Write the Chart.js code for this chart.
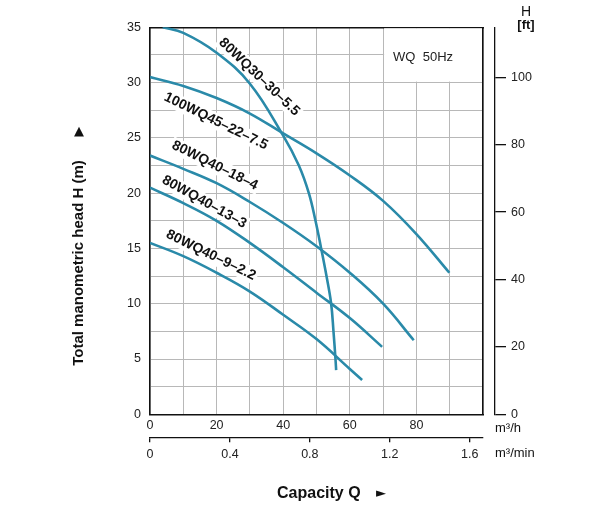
<!DOCTYPE html>
<html>
<head>
<meta charset="utf-8">
<style>
html, body { margin: 0; padding: 0; background: #fff; }
</style>
<script src="https://cdn.jsdelivr.net/npm/chart.js@4.4.0/dist/chart.umd.min.js"></script>
</head>
<body>
<canvas id="myChart" width="594" height="521"></canvas>
<script>
// pump curves, Q in m3/h and H in m
var names = ['80WQ30–30–5.5', '100WQ45–22–7.5', '80WQ40–18–4', '80WQ40–13–3', '80WQ40–9–2.2'];
var q1 = [3.8, 10, 20, 30, 40, 44.7, 47.7, 49.7, 51.4, 53, 54.4, 55.1, 55.7, 55.9];
var h1 = [35, 34.5, 32.7, 29.9, 25.2, 22.5, 20, 17.5, 15, 12.5, 10, 7.5, 5, 4.0];
var q2 = [0, 10, 20, 30, 40, 50, 60, 70, 80, 89.9];
var h2 = [30.5, 29.7, 28.6, 27.2, 25.4, 23.6, 21.6, 19.3, 16.3, 12.8];
var q3 = [0, 10, 20, 30, 40, 50, 60, 70, 79.2];
var h3 = [23.4, 22.2, 20.9, 19.2, 17.3, 15.2, 12.8, 10.0, 6.7];
var q4 = [0, 10, 20, 30, 40, 50, 60, 69.7];
var h4 = [20.5, 19.1, 17.5, 15.5, 13.3, 11.0, 8.7, 6.1];
var q5 = [0, 10, 20, 30, 40, 50, 60, 63.7];
var h5 = [15.5, 14.3, 12.8, 11.1, 9.0, 6.8, 4.1, 3.1];

// axis ticks
var qTicks = [0, 20, 40, 60, 80];
var minTicks = [0, 0.4, 0.8, 1.2, 1.6];
var hTicks = [0, 5, 10, 15, 20, 25, 30, 35];
var ftTicks = [0, 20, 40, 60, 80, 100];

// where the model names sit (Q, H, angle)
var labelQ = [32.8, 19.8, 19.5, 16.3, 18.3];
var labelH = [30.5, 26.5, 22.5, 19.2, 14.4];
var labelAngle = [43.7, 26, 26.6, 29, 26];

var teal = '#2a8aa9';
var grey = '#b8b8b8';
Chart.defaults.font.family = '"Liberation Sans", Arial, sans-serif';
Chart.defaults.color = '#222';

function pts(q, h) {
    var arr = [];
    for (var i = 0; i < q.length; i++) {
        arr.push({x: q[i], y: h[i]});
    }
    return arr;
}

var allQ = [q1, q2, q3, q4, q5];
var allH = [h1, h2, h3, h4, h5];
var datasets = [];
for (var i = 0; i < names.length; i++) {
    datasets.push({
        label: names[i],
        data: pts(allQ[i], allH[i]),
        borderColor: teal,
        borderWidth: 2.6,
        pointRadius: 0,
        tension: 0.4,
        fill: false
    });
}

var decor = {
    id: 'decor',
    beforeDatasetsDraw: function(chart) {
        var ctx = chart.ctx;
        var sx = chart.scales.x, sy = chart.scales.y;
        var area = chart.chartArea;
        ctx.save();
        // blank box for the note
        ctx.fillStyle = '#fff';
        var l = sx.getPixelForValue(70) + 1;
        ctx.fillRect(l, area.top + 1, area.right - l - 1, sy.getPixelForValue(30) - area.top - 2);
        ctx.fillStyle = '#222';
        ctx.font = '13px "Liberation Sans", Arial, sans-serif';
        ctx.textAlign = 'center';
        ctx.textBaseline = 'middle';
        ctx.fillText('WQ  50Hz', sx.getPixelForValue(82), sy.getPixelForValue(32.5) + 2);

        // model names along the curves
        ctx.font = 'bold 14px "Liberation Sans", Arial, sans-serif';
        for (var i = 0; i < names.length; i++) {
            var px = sx.getPixelForValue(labelQ[i]);
            var py = sy.getPixelForValue(labelH[i]);
            ctx.save();
            ctx.translate(px, py);
            ctx.rotate(labelAngle[i] * Math.PI / 180);
            var w = ctx.measureText(names[i]).width;
            ctx.fillStyle = '#fff';
            ctx.fillRect(-w / 2 - 2, -8, w + 4, 16);
            ctx.fillStyle = '#111';
            ctx.fillText(names[i], 0, 0);
            ctx.restore();
        }
        ctx.restore();
    },
    afterDraw: function(chart) {
        var ctx = chart.ctx;
        ctx.save();
        ctx.fillStyle = '#111';
        ctx.textBaseline = 'middle';
        ctx.textAlign = 'center';
        ctx.font = '14px "Liberation Sans", Arial, sans-serif';
        ctx.fillText('H', 526, 12);
        ctx.font = 'bold 13px "Liberation Sans", Arial, sans-serif';
        ctx.fillText('[ft]', 526, 25);

        ctx.textAlign = 'left';
        ctx.font = '13px "Liberation Sans", Arial, sans-serif';
        ctx.fillText('m³/h', 495, 428);
        ctx.fillText('m³/min', 495, 453);

        ctx.font = 'bold 16px "Liberation Sans", Arial, sans-serif';
        ctx.fillText('Capacity Q', 277, 494);
        ctx.font = '13px "DejaVu Sans", sans-serif';
        ctx.fillText('►', 376, 494);

        ctx.textAlign = 'center';
        ctx.fillText('▲', 79, 132);

        ctx.translate(79, 263);
        ctx.rotate(-Math.PI / 2);
        ctx.font = 'bold 15px "Liberation Sans", Arial, sans-serif';
        ctx.fillText('Total manometric head H (m)', 0, 0);
        ctx.restore();
    }
};

function setTicks(list) {
    return function(scale) {
        scale.ticks = list.map(function(v) { return {value: v}; });
    };
}

var ctx = document.getElementById('myChart').getContext('2d');
var myChart = new Chart(ctx, {
    type: 'line',
    data: {datasets: datasets},
    options: {
        responsive: false,
        animation: false,
        devicePixelRatio: 1,
        layout: {padding: 0},
        plugins: {legend: {display: false}, tooltip: {enabled: false}},
        scales: {
            x: {
                type: 'linear', position: 'bottom', min: 0, max: 100, weight: 0,
                ticks: {
                    stepSize: 10, padding: 4, maxRotation: 0, autoSkip: false,
                    font: {size: 12.5},
                    callback: function(v) { return qTicks.indexOf(v) >= 0 ? String(v) : ''; }
                },
                grid: {color: grey, lineWidth: 1, drawTicks: false},
                border: {color: '#111', width: 1.5},
                afterFit: function(s) { s.height = 23; }
            },
            xmin: {
                type: 'linear', axis: 'x', position: 'bottom', min: 0, max: 100 / 60, weight: 1,
                afterBuildTicks: setTicks(minTicks),
                ticks: {padding: 5, maxRotation: 0, autoSkip: false, font: {size: 12.5}},
                grid: {drawOnChartArea: false, drawTicks: true, tickLength: 5, color: '#111', lineWidth: 1.3},
                border: {color: '#111', width: 1.3},
                afterFit: function(s) { s.height = 83.7; }
            },
            xt: {
                type: 'linear', axis: 'x', position: 'top', min: 0, max: 100,
                ticks: {display: false},
                grid: {display: false},
                border: {color: '#111', width: 1.5},
                afterFit: function(s) { s.height = 27.3; }
            },
            y: {
                type: 'linear', position: 'left', min: 0, max: 35,
                ticks: {
                    stepSize: 2.5, padding: 9, autoSkip: false, font: {size: 12.5},
                    callback: function(v) { return hTicks.indexOf(v) >= 0 ? String(v) : ''; }
                },
                grid: {color: grey, lineWidth: 1, drawTicks: false},
                border: {color: '#111', width: 1.5},
                afterFit: function(s) { s.width = 150; }
            },
            yr: {
                type: 'linear', axis: 'y', position: 'right', min: 0, max: 35, weight: 0,
                ticks: {display: false},
                grid: {display: false},
                border: {color: '#111', width: 1.5},
                afterFit: function(s) { s.width = 12; }
            },
            ft: {
                type: 'linear', axis: 'y', position: 'right', min: 0, max: 35 * 3.28084, weight: 1,
                afterBuildTicks: setTicks(ftTicks),
                ticks: {padding: 5, autoSkip: false, font: {size: 12.5}},
                grid: {drawOnChartArea: false, drawTicks: true, tickLength: 11, color: '#111', lineWidth: 1.3},
                border: {color: '#111', width: 1.3},
                afterFit: function(s) { s.width = 99; }
            }
        }
    },
    plugins: [decor]
});
</script>
</body>
</html>
